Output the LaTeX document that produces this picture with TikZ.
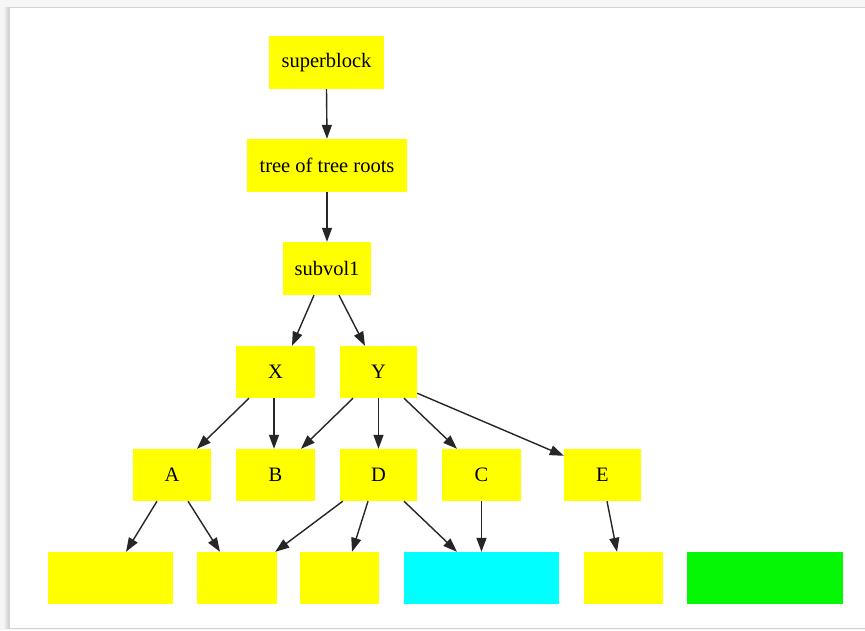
\documentclass[tikz,border=0pt]{standalone}
\usepackage{fontspec}
\setmainfont{Liberation Serif}
\usetikzlibrary{arrows.meta}

\definecolor{boxyellow}{HTML}{FFFF00}
\definecolor{boxcyan}{HTML}{00FFFF}
\definecolor{boxgreen}{HTML}{05F705}

\tikzset{
  blk/.style={rectangle, fill=boxyellow, inner sep=0pt, minimum height=52pt,
              font=\fontsize{20.5}{24}\selectfont, text=black},
  link/.style={line width=1.4pt, draw=black!85,
               -{Triangle[length=14pt,width=10pt]}},
}

\begin{document}
\begin{tikzpicture}[x=1pt,y=-1pt]
  \useasboundingbox (0,0) rectangle (865,630);
  % page backdrop and card
  \fill[gray!7] (0,0) rectangle (865,630);
  \shade[left color=gray!6, right color=gray!40] (3,7) rectangle (9,628);
  \filldraw[fill=white, draw=gray!35, line width=1pt] (9,7) rectangle (870,628);

  % tree nodes
  \node[blk, minimum width=115pt, minimum height=53pt] (sb) at (326.5,62.5) {superblock};
  \node[blk, minimum width=160pt, minimum height=53pt] (tr) at (327,165.5) {tree of tree roots};
  \node[blk, minimum width=88pt,  minimum height=53pt] (sv) at (327,268.5) {subvol1};

  \node[blk, minimum width=79pt] (X) at (275.5,372) {X};
  \node[blk, minimum width=77pt] (Y) at (378.5,372) {Y};

  \node[blk, minimum width=78pt] (A) at (172,475) {A};
  \node[blk, minimum width=79pt] (B) at (275.5,475) {B};
  \node[blk, minimum width=77pt] (D) at (378.5,475) {D};
  \node[blk, minimum width=79pt] (C) at (481.5,475) {C};
  \node[blk, minimum width=77pt] (E) at (602.5,475) {E};

  \node[blk, minimum width=125pt] (l1) at (110.5,578) {};
  \node[blk, minimum width=80pt]  (l2) at (237,578) {};
  \node[blk, minimum width=79pt]  (l3) at (339.5,578) {};
  \node[blk, minimum width=155pt, fill=boxcyan] (l4) at (481.5,578) {};
  \node[blk, minimum width=79pt]  (l5) at (623.5,578) {};
  \node[blk, minimum width=156pt, fill=boxgreen] (l6) at (765,578) {};

  % connectors
  \draw[link] (sb.south) -- (tr.north);
  \draw[link] (tr.south) -- (sv.north);

  \draw[link] ([xshift=-13pt]sv.south) -- ([xshift=16.5pt]X.north);
  \draw[link] ([xshift=12pt]sv.south) -- ([xshift=-13.5pt]Y.north);

  \draw[link] ([xshift=-26.5pt]X.south) -- ([xshift=25pt]A.north);
  \draw[link] ([xshift=-1.5pt]X.south) -- ([xshift=-1.5pt]B.north);

  \draw[link] ([xshift=-25.5pt]Y.south) -- ([xshift=25.5pt]B.north);
  \draw[link] (Y.south) -- (D.north);
  \draw[link] ([xshift=25.5pt]Y.south) -- ([xshift=-24.5pt]C.north);
  \draw[link] ([yshift=5pt]Y.south east) -- ([yshift=-7pt]E.north west);

  \draw[link] ([xshift=-15pt]A.south) -- ([xshift=15.5pt]l1.north);
  \draw[link] ([xshift=16pt]A.south) -- ([xshift=-17pt]l2.north);

  \draw[link] ([xshift=3pt]D.south west) -- ([xshift=-2pt]l2.north east);
  \draw[link] ([xshift=-10.5pt]D.south) -- ([xshift=12.5pt]l3.north);
  \draw[link] ([xshift=25.5pt]D.south) -- ([xshift=-24.5pt]l4.north);

  \draw[link] (C.south) -- (l4.north);
  \draw[link] ([xshift=4.5pt]E.south) -- ([xshift=-6.5pt]l5.north);
\end{tikzpicture}
\end{document}
